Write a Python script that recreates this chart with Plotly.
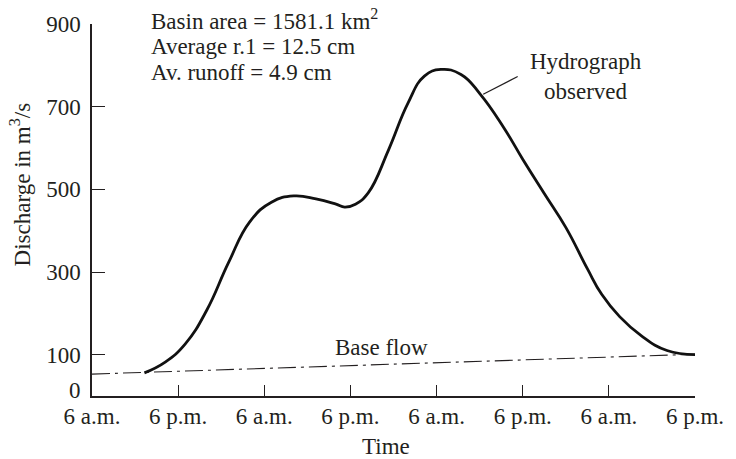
import plotly.graph_objects as go

# Observed hydrograph (hours after first 6 a.m., discharge m^3/s)
hydro_hours = [7.3, 10.2, 13.0, 16.0, 19.0, 22.0, 25.0, 28.1, 31.2, 34.0, 35.2, 36.7, 38.5,
               41.3, 44.0, 46.3, 48.6, 51.4, 54.1, 57.3, 60.0, 63.0, 66.0, 69.0, 71.0,
               73.5, 76.5, 80.1, 84.0]
hydro_q = [56, 82, 126, 208, 322, 422, 469, 484, 477, 464, 457, 464, 492,
           595, 708, 774, 790, 778, 730, 651, 573, 490, 408, 308, 246,
           192, 146, 110, 100]

base_hours = [0, 84]
base_q = [53, 101]

tick_hours = [0, 12, 24, 36, 48, 60, 72, 84]
tick_text = ["6 a.m.", "6 p.m.", "6 a.m.", "6 p.m.", "6 a.m.", "6 p.m.", "6 a.m.", "6 p.m."]
y_ticks = [100, 300, 500, 700, 900]
y_zero_label = "0"

FONT = "Liberation Serif"
TXT = "#231f20"
FS = 23

fig = go.Figure()
fig.add_trace(go.Scatter(x=base_hours, y=base_q, mode="lines",
                         line=dict(color="#231f20", width=1.1, dash="18px,5px,3px,5px"),
                         hoverinfo="skip", showlegend=False))
fig.add_trace(go.Scatter(x=hydro_hours, y=hydro_q, mode="lines",
                         line=dict(color="#111111", width=2.8, shape="spline", smoothing=1.3),
                         showlegend=False))

fig.update_layout(
    width=736, height=459,
    margin=dict(l=92, r=31, t=19, b=63),
    paper_bgcolor="white", plot_bgcolor="white",
    font=dict(family=FONT, size=FS, color=TXT),
    xaxis=dict(range=[0, 84], tickvals=tick_hours, ticktext=tick_text,
               ticks="inside", ticklen=11, tickwidth=1.3, tickcolor=TXT,
               showline=True, linecolor=TXT, linewidth=1.5, showgrid=False,
               zeroline=False, ticklabelstandoff=-1,
               tickfont=dict(size=FS, family=FONT, color=TXT)),
    yaxis=dict(range=[0, 900], tickvals=y_ticks,
               ticks="inside", ticklen=13, tickwidth=1.3, tickcolor=TXT,
               showline=True, linecolor=TXT, linewidth=1.5, showgrid=False,
               zeroline=False, ticklabelstandoff=5,
               tickfont=dict(size=FS, family=FONT, color=TXT)),
)

ann = [
    dict(text="Average r.1 = 12.5 cm", x=7.95, y=845, xanchor="left", yanchor="middle"),
    dict(text="Av. runoff = 4.9 cm", x=7.95, y=783, xanchor="left", yanchor="middle"),
    dict(text="Hydrograph<br>observed", x=68.8, y=772, xanchor="center", yanchor="middle", align="center"),
    dict(text="Base flow", x=40.3, y=118, xanchor="center", yanchor="middle"),
]
for a in ann:
    fig.add_annotation(xref="x", yref="y", showarrow=False,
                       font=dict(family=FONT, size=FS, color=TXT), **a)

# first info line sits at the very top of the plot area (paper coords so it is not clipped)
fig.add_annotation(text="Basin area = 1581.1 km<sup>2</sup>", xref="x", yref="paper",
                   x=7.95, y=1.011, xanchor="left", yanchor="middle", showarrow=False,
                   font=dict(family=FONT, size=FS, color=TXT))

# "0" label on the y axis sits slightly above the axis line in the original
fig.add_annotation(text=y_zero_label, xref="paper", yref="y", x=0, y=0,
                   xanchor="right", yanchor="middle", xshift=-9, yshift=6,
                   showarrow=False, font=dict(family=FONT, size=FS, color=TXT))

fig.add_annotation(text="Time", xref="paper", yref="paper", x=0.488, y=-0.137,
                   xanchor="center", yanchor="middle", showarrow=False,
                   font=dict(family=FONT, size=FS, color=TXT))
fig.add_annotation(text="Discharge in m<sup>3</sup>/s", xref="paper", yref="paper",
                   x=-0.117, y=0.57, textangle=-90, xanchor="center", yanchor="middle",
                   showarrow=False, font=dict(family=FONT, size=FS, color=TXT))

fig.add_shape(type="line", xref="x", yref="y", x0=54.5, y0=730, x1=59.3, y1=773,
              line=dict(color=TXT, width=1.2))

fig.write_html("out.html")
